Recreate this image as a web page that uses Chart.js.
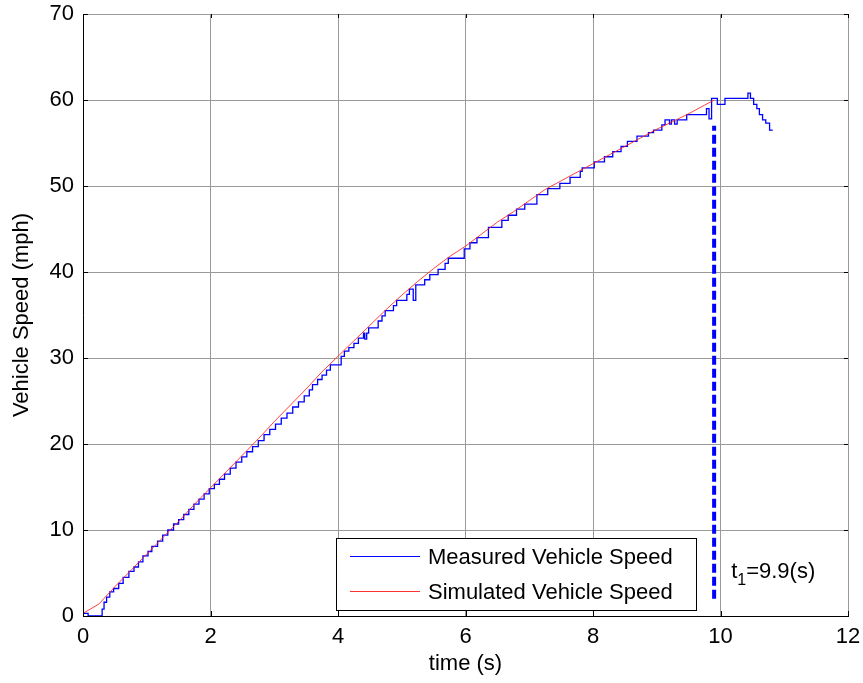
<!DOCTYPE html>
<html>
<head>
<meta charset="utf-8">
<script src="https://cdn.jsdelivr.net/npm/chart.js@4.4.1/dist/chart.umd.min.js"></script>
<style>
  html, body { margin: 0; padding: 0; background: #ffffff; }
  canvas { display: block; }
</style>
</head>
<body>
<canvas id="speedChart" width="863" height="683"></canvas>
<script>
// Measured vehicle speed (step trace): time of each step (s) and the new speed (mph)
const measuredTime = [
  0.00, 0.08, 0.27, 0.30, 0.33, 0.37, 0.42, 0.48, 0.56, 0.63, 0.72, 0.80, 0.87, 0.94,
  1.02, 1.08, 1.17, 1.25, 1.33, 1.42, 1.50, 1.58, 1.66, 1.74, 1.82, 1.90, 1.98,
  2.06, 2.14, 2.22, 2.31, 2.40, 2.49, 2.57, 2.66, 2.75, 2.84, 2.93,
  3.02, 3.11, 3.20, 3.29, 3.38, 3.47, 3.55, 3.60, 3.68, 3.75, 3.82, 3.88,
  4.05, 4.10, 4.17, 4.25, 4.32, 4.40, 4.42, 4.45, 4.48, 4.63, 4.69, 4.74, 4.87, 4.92,
  5.08, 5.12, 5.18, 5.22, 5.36, 5.44, 5.57, 5.68, 5.73, 5.98,
  6.07, 6.18, 6.36, 6.57, 6.67, 6.80, 6.93,
  7.12, 7.29, 7.48, 7.64, 7.80, 7.83,
  8.02, 8.18, 8.31, 8.44, 8.54, 8.69, 8.87, 8.95,
  9.08, 9.13, 9.20, 9.23, 9.28, 9.32, 9.47, 9.78, 9.82, 9.86, 9.95,
  10.07, 10.43, 10.47, 10.52, 10.57, 10.61, 10.66, 10.71, 10.77, 10.82
];
const measuredSpeed = [
  0.3, 0.0, 0.0, 0.8, 1.6, 2.2, 2.8, 3.2, 3.8, 4.5, 5.2, 5.7, 6.3, 7.0,
  7.5, 8.1, 8.7, 9.4, 10.0, 10.7, 11.2, 11.8, 12.4, 13.0, 13.6, 14.2, 14.8,
  15.3, 15.9, 16.5, 17.2, 17.9, 18.5, 19.1, 19.7, 20.4, 21.1, 21.7,
  22.3, 23.0, 23.6, 24.3, 24.9, 25.6, 26.3, 26.9, 27.5, 28.0, 28.6, 29.2,
  30.2, 30.8, 31.2, 31.7, 32.3, 32.9, 32.2, 32.9, 33.5, 34.3, 34.9, 35.5, 36.1, 36.7,
  37.4, 38.0, 36.7, 38.5, 39.1, 39.7, 40.3, 41.0, 41.6, 42.7,
  43.4, 44.0, 45.2, 46.0, 46.6, 47.3, 47.9,
  49.0, 49.7, 50.3, 51.0, 51.7, 52.1,
  52.8, 53.4, 54.0, 54.6, 55.2, 55.8, 56.2, 56.5,
  57.1, 57.7, 57.2, 57.7, 57.2, 57.7, 58.3, 59.0, 57.8, 60.2, 59.5,
  60.2, 60.8, 60.2, 59.5, 59.0, 58.3, 57.7, 57.3, 56.5, 56.5
];

// Simulated vehicle speed (model output)
const simTime = [
  0.00, 0.25, 0.50, 0.75, 1.00, 1.25, 1.50, 1.75, 2.00, 2.25, 2.50, 2.75,
  3.00, 3.25, 3.50, 3.75, 4.00, 4.25, 4.50, 4.75, 5.00, 5.25, 5.50, 5.75,
  6.00, 6.25, 6.50, 6.75, 7.00, 7.25, 7.50, 7.75, 8.00, 8.25, 8.50, 8.75,
  9.00, 9.25, 9.50, 9.75, 9.90
];
const simSpeed = [
  0.3, 1.4, 3.4, 5.3, 7.2, 9.1, 11.0, 13.0, 14.9, 16.8, 18.7, 20.6,
  22.6, 24.5, 26.4, 28.4, 30.2, 32.0, 33.8, 35.6, 37.3, 38.9, 40.4, 41.8,
  43.0, 44.4, 45.8, 47.0, 48.3, 49.6, 50.6, 51.6, 52.6, 53.6, 54.6, 55.6,
  56.6, 57.5, 58.4, 59.4, 60.0
];

// Vertical marker at t1
const markerTime = 9.9;
const markerSpeedRange = [2, 57];

const xTicks = [0, 2, 4, 6, 8, 10, 12];
const yTicks = [0, 10, 20, 30, 40, 50, 60, 70];
const seriesLabels = ['Measured Vehicle Speed', 'Simulated Vehicle Speed'];
const xTitle = 'time (s)';
const yTitle = 'Vehicle Speed (mph)';
const markerText = { base: 't', sub: '1', rest: '=9.9(s)' };

const FONT = '"Liberation Sans", Arial, Helvetica, sans-serif';
const BLUE = '#0000ff';
const RED = 'rgba(255,30,30,0.85)';

const toPoints = (xs, ys) => xs.map((x, i) => ({ x: x, y: ys[i] }));

// keep the plot box fixed: no extra room reserved for overhanging end labels
const noOverhang = s => { s.paddingTop = 0; s.paddingBottom = 0; s.paddingLeft = 0; s.paddingRight = 0; };

// Axis frame details: inward tick marks, axis titles, legend box and marker label
const framePlugin = {
  id: 'frame',
  afterDraw(chart) {
    const { ctx, chartArea: a, scales } = chart;
    const xs = scales.x, ys = scales.y;
    ctx.save();
    ctx.strokeStyle = '#000';
    ctx.lineWidth = 1;
    ctx.beginPath();
    xTicks.forEach(v => {
      const px = Math.round(xs.getPixelForValue(v)) + 0.5;
      ctx.moveTo(px, a.bottom); ctx.lineTo(px, a.bottom - 5);
      ctx.moveTo(px, a.top); ctx.lineTo(px, a.top + 4);
    });
    yTicks.forEach(v => {
      const py = Math.round(ys.getPixelForValue(v)) + 0.5;
      ctx.moveTo(a.left, py); ctx.lineTo(a.left + 5, py);
      ctx.moveTo(a.right, py); ctx.lineTo(a.right - 4, py);
    });
    ctx.stroke();

    // axis titles
    ctx.fillStyle = '#000';
    ctx.font = '22px ' + FONT;
    ctx.textAlign = 'center';
    ctx.textBaseline = 'middle';
    ctx.fillText(xTitle, (a.left + a.right) / 2, 664);
    ctx.save();
    ctx.translate(22, (a.top + a.bottom) / 2);
    ctx.rotate(-Math.PI / 2);
    ctx.fillText(yTitle, 0, 0);
    ctx.restore();

    // marker label t1=9.9(s)
    const tx = xs.getPixelForValue(markerTime) + 17;
    const ty = ys.getPixelForValue(4.4);
    ctx.textAlign = 'left';
    ctx.textBaseline = 'alphabetic';
    ctx.font = '22px ' + FONT;
    ctx.fillText(markerText.base, tx, ty);
    let w = ctx.measureText(markerText.base).width;
    ctx.font = '16px ' + FONT;
    ctx.fillText(markerText.sub, tx + w, ty + 7);
    w += ctx.measureText(markerText.sub).width;
    ctx.font = '22px ' + FONT;
    ctx.fillText(markerText.rest, tx + w, ty);

    // legend box
    const bx = 336.5, by = 538.5, bw = 360, bh = 72;
    ctx.fillStyle = '#fff';
    ctx.fillRect(bx, by, bw, bh);
    ctx.strokeStyle = '#000';
    ctx.lineWidth = 1;
    ctx.strokeRect(bx, by, bw, bh);
    const rows = [
      { label: seriesLabels[0], color: BLUE, y: 556 },
      { label: seriesLabels[1], color: '#ff3030', y: 591 }
    ];
    rows.forEach(r => {
      ctx.strokeStyle = r.color;
      ctx.lineWidth = 1;
      ctx.beginPath();
      ctx.moveTo(350, r.y + 0.5);
      ctx.lineTo(420, r.y + 0.5);
      ctx.stroke();
      ctx.fillStyle = '#000';
      ctx.font = '22px ' + FONT;
      ctx.textBaseline = 'middle';
      ctx.fillText(r.label, 428, r.y + 2);
    });
    ctx.restore();
  }
};

new Chart(document.getElementById('speedChart').getContext('2d'), {
  type: 'scatter',
  data: {
    datasets: [
      {
        label: seriesLabels[0],
        data: toPoints(measuredTime, measuredSpeed),
        showLine: true,
        stepped: 'before',
        borderColor: BLUE,
        borderWidth: 1.3,
        pointRadius: 0,
        order: 2
      },
      {
        label: seriesLabels[1],
        data: toPoints(simTime, simSpeed),
        showLine: true,
        borderColor: RED,
        borderWidth: 1,
        pointRadius: 0,
        order: 1
      },
      {
        label: 't1',
        data: toPoints([markerTime, markerTime], markerSpeedRange),
        showLine: true,
        borderColor: BLUE,
        borderWidth: 4,
        borderDash: [9, 4],
        pointRadius: 0,
        order: 0
      }
    ]
  },
  options: {
    responsive: false,
    animation: false,
    devicePixelRatio: 1,
    layout: { padding: { top: 14, right: 15, left: 0, bottom: 0 } },
    plugins: { legend: { display: false }, tooltip: { enabled: false } },
    scales: {
      x: {
        type: 'linear',
        min: 0,
        max: 12,
        afterBuildTicks: s => { s.ticks = xTicks.map(v => ({ value: v })); },
        afterFit: s => { s.height = 67; noOverhang(s); },
        ticks: { font: { family: FONT, size: 22 }, color: '#000', padding: 8, maxRotation: 0 },
        grid: { color: '#9a9a9a', lineWidth: 1, drawTicks: false },
        border: { color: '#000', width: 1 }
      },
      y: {
        type: 'linear',
        min: 0,
        max: 70,
        afterBuildTicks: s => { s.ticks = yTicks.map(v => ({ value: v })); },
        afterFit: s => { s.width = 83; noOverhang(s); },
        ticks: { font: { family: FONT, size: 22 }, color: '#000', padding: 9 },
        grid: { color: '#9a9a9a', lineWidth: 1, drawTicks: false },
        border: { color: '#000', width: 1 }
      }
    }
  },
  plugins: [framePlugin]
});
</script>
</body>
</html>
